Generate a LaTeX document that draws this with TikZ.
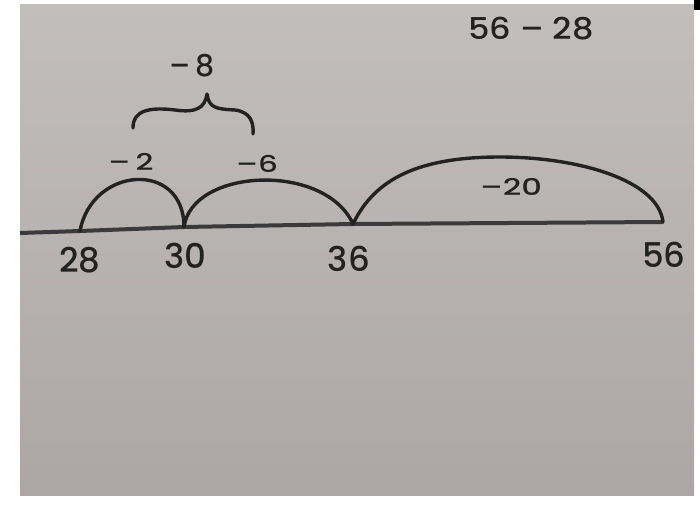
\documentclass[tikz,border=0pt]{standalone}
\usepackage{fontspec}
\setmainfont{Poppins Medium}
\definecolor{paperTop}{HTML}{C2BEBB}
\definecolor{paperBot}{HTML}{ACA7A6}
\definecolor{ink}{HTML}{222222}
\definecolor{lineink}{HTML}{3A3A3C}
\tikzset{
  arcline/.style={draw=ink, line width=3.4pt, line cap=round, line join=round},
  numline/.style={draw=lineink, line width=4pt},
  bignum/.style={text=ink, font=\fontsize{34}{34}\selectfont, inner sep=0pt},
  steplabel/.style={text=ink, font=\fontsize{23}{23}\selectfont, inner sep=0pt},
  midlabel/.style={text=ink, font=\fontsize{30}{30}\selectfont, inner sep=0pt}
}
\begin{document}
\begin{tikzpicture}[x=1pt,y=-1pt]
  \useasboundingbox (0,0) rectangle (700,508);
  \fill[white] (0,0) rectangle (700,508);
  \shade[top color=paperTop, bottom color=paperBot] (20,5) rectangle (694,495);
  \fill[black] (694,0) rectangle (700,10);
  % number line points
  \coordinate (L) at (20,233);
  \coordinate (p28) at (80,231);
  \coordinate (p30) at (184,227);
  \coordinate (p36) at (353,224);
  \coordinate (p56) at (663,222);
  \draw[numline] (L) -- (p28) -- (p30) -- (p36) -- (p56);
  % jumps
  \draw[arcline] (p28) .. controls (92,166) and (184,160) .. (p30);
  \draw[arcline] (p30) .. controls (192,168) and (325,162) .. (p36);
  \draw[arcline] (p36) .. controls (375,178) and (420,157) .. (500,157)
                 .. controls (578,157) and (658,180) .. (p56);
  % brace
  \draw[arcline] (133,128) .. controls (133,110) and (150,107) .. (175,110)
                 .. controls (196,113) and (205,108) .. (207,94)
                 .. controls (209,108) and (216,109) .. (235,110)
                 .. controls (250,112) and (254,122) .. (253,134);
  % labels
  \node[bignum] (t28) at (80,260) {28};
  \node[bignum] (t30) at (185,256) {30};
  \node[bignum] (t36) at (349,259) {36};
  \node[bignum] (t56) at (664,255) {56};
  \node[steplabel] (m2) at (131,162) {\scalebox{1.35}[1]{–\,2}};
  \node[steplabel] (m6) at (257,164) {\scalebox{1.35}[1]{–6}};
  \node[steplabel] (m20) at (511,187) {\scalebox{1.4}[1]{–20}};
  \node[midlabel] (m8) at (192,66) {–\,8};
  \node[midlabel] (prob) at (531,29) {\scalebox{1.12}[1]{56 – 28}};
\end{tikzpicture}
\end{document}
